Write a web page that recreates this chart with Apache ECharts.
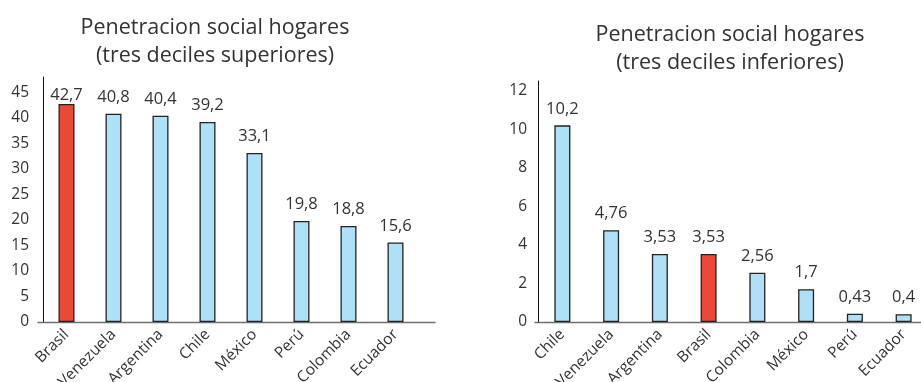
<!DOCTYPE html>
<html>
<head>
<meta charset="utf-8">
<script src="https://cdn.jsdelivr.net/npm/echarts@6/dist/echarts.min.js"></script>
<style>
  html, body { margin: 0; padding: 0; background: #fff; }
  #chart { width: 921px; height: 382px; }
</style>
</head>
<body>
<div id="chart"></div>
<script>
// Household social penetration, top three deciles
const topCountries = ['Brasil', 'Venezuela', 'Argentina', 'Chile', 'México', 'Perú', 'Colombia', 'Ecuador'];
const topValues = [42.7, 40.8, 40.4, 39.2, 33.1, 19.8, 18.8, 15.6];

// Household social penetration, bottom three deciles
const bottomCountries = ['Chile', 'Venezuela', 'Argentina', 'Brasil', 'Colombia', 'México', 'Perú', 'Ecuador'];
const bottomValues = [10.2, 4.76, 3.53, 3.53, 2.56, 1.7, 0.43, 0.4];

const highlightCountry = 'Brasil';

const FONT = '"Open Sans", "Noto Sans", sans-serif';
const TEXT = '#333';
const RED = '#ec4839';
const BLUE = '#aee0f8';

const fmt = v => String(v).replace('.', ',');

function barData(countries, values, highlightDistance) {
  return values.map((v, i) => {
    const hi = countries[i] === highlightCountry;
    const item = { value: v, itemStyle: { color: hi ? RED : BLUE } };
    if (hi && highlightDistance != null) item.label = { distance: highlightDistance };
    return item;
  });
}

const chart = echarts.init(document.getElementById('chart'), null, { renderer: 'canvas' });

const catAxis = (gridIndex, data) => ({
  type: 'category', gridIndex, data,
  axisLine: { show: false }, axisTick: { show: false },
  axisLabel: { interval: 0, rotate: 45, margin: 10, fontSize: 15.5, color: TEXT, fontFamily: FONT }
});
const lineAxis = gridIndex => ({
  type: 'value', gridIndex, min: 0, max: 1,
  axisLine: { show: true, lineStyle: { color: '#6f6f6f', width: 1.3 } },
  axisTick: { show: false }, axisLabel: { show: false }, splitLine: { show: false }
});
const valAxis = (gridIndex, max, interval, margin) => ({
  type: 'value', gridIndex, min: 0, max, interval,
  axisLine: { show: true, lineStyle: { color: '#111', width: 1 } },
  axisTick: { show: false }, splitLine: { show: false },
  axisLabel: { showMaxLabel: false, margin, fontSize: 15.5, color: TEXT, fontFamily: FONT }
});
const hiddenAxis = gridIndex => ({ type: 'value', gridIndex, min: 0, max: 1, show: false });

const barSeries = (axisIndex, countries, values, hiDist) => ({
  type: 'bar', xAxisIndex: axisIndex, yAxisIndex: axisIndex,
  barWidth: 16,
  data: barData(countries, values, hiDist),
  itemStyle: { borderColor: '#222', borderWidth: 1.3 },
  label: {
    show: true, position: 'top', distance: 8,
    fontSize: 16.5, color: TEXT, fontFamily: FONT,
    formatter: p => fmt(p.value)
  },
  animation: false
});

const titleStyle = { fontSize: 21.5, lineHeight: 28, fontWeight: 'normal', color: TEXT, fontFamily: FONT };
const gridBase = { containLabel: false, outerBoundsMode: 'none' };

chart.setOption({
  animation: false,
  backgroundColor: '#fff',
  title: [
    {
      text: 'Penetracion social hogares\n(tres deciles superiores)',
      left: 210, top: 9, textAlign: 'center', textStyle: titleStyle
    },
    {
      text: 'Penetracion social hogares\n(tres deciles inferiores)',
      left: 725, top: 16, textAlign: 'center', textStyle: titleStyle
    }
  ],
  grid: [
    Object.assign({ left: 43, width: 376, top: 77, height: 245 }, gridBase),
    Object.assign({ left: 38, width: 397, top: 77, height: 245 }, gridBase),
    Object.assign({ left: 538, width: 390, top: 81, height: 241 }, gridBase),
    Object.assign({ left: 535, width: 390, top: 81, height: 241 }, gridBase)
  ],
  xAxis: [
    catAxis(0, topCountries),
    lineAxis(1),
    catAxis(2, bottomCountries),
    lineAxis(3)
  ],
  yAxis: [
    valAxis(0, 48, 5, 14),
    hiddenAxis(1),
    valAxis(2, 12.5, 2, 11),
    hiddenAxis(3)
  ],
  series: [
    barSeries(0, topCountries, topValues, 0),
    barSeries(2, bottomCountries, bottomValues, null)
  ]
});
</script>
</body>
</html>
